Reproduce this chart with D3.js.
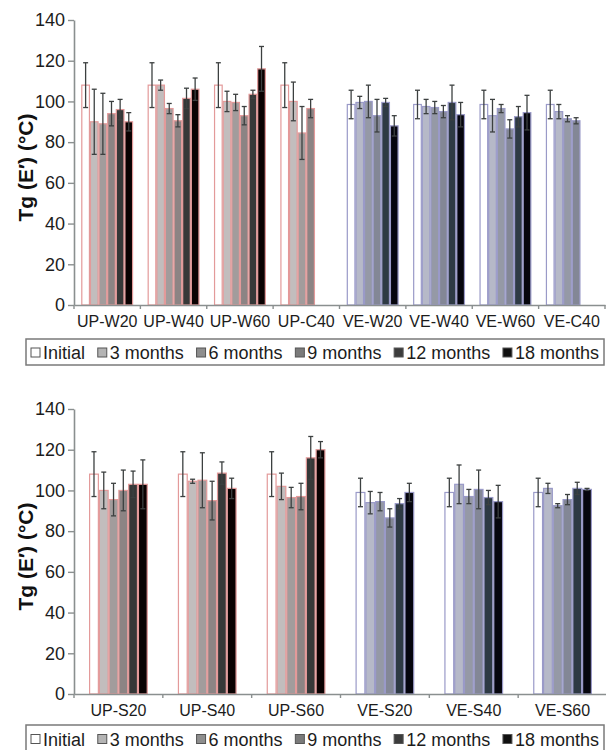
<!DOCTYPE html>
<html>
<head>
<meta charset="utf-8">
<script src="https://cdn.jsdelivr.net/npm/d3@7"></script>
<style>
  body { margin: 0; background: #fff; }
  svg { display: block; }
  text { font-family: "Liberation Sans", Arial, Helvetica, sans-serif; }
</style>
</head>
<body>
<svg id="chart" width="606" height="750"></svg>
<script>
// Ageing periods (series) shared by both panels
const series = ["Initial", "3 months", "6 months", "9 months", "12 months", "18 months"];
const yTicks = [0, 20, 40, 60, 80, 100, 120, 140];

// Panel 1: water / concrete exposure
const topCats = ["UP-W20", "UP-W40", "UP-W60", "UP-C40", "VE-W20", "VE-W40", "VE-W60", "VE-C40"];
const topMeans = [
  [108, 90, 89, 94, 96, 90],
  [108, 108, 96.5, 90.5, 101.5, 106],
  [108, 100, 99.5, 93, 103.5, 116],
  [108, 100, 84.5, 96.5, null, null],
  [98.5, 99.5, 100, 93, 99.5, 88],
  [98.5, 97.5, 97, 95, 99.5, 93.5],
  [98.5, 93, 96.5, 86.5, 92.5, 94.5],
  [98.5, 95, 91.5, 90.5, null, null]
];
const topErrs = [
  [11, 16, 15, 6, 5, 4.5],
  [11, 2.5, 2.5, 3, 5, 5.5],
  [11, 5, 4, 4.5, 2, 11],
  [11, 9.5, 13, 4.5, null, null],
  [7, 3, 8, 8, 2, 5],
  [7, 3.5, 3, 3, 8.5, 6],
  [7, 8, 2, 4.5, 5, 8.5],
  [7, 3.5, 1.5, 1.5, null, null]
];

// Panel 2: salt solution exposure
const bottomCats = ["UP-S20", "UP-S40", "UP-S60", "VE-S20", "VE-S40", "VE-S60"];
const bottomMeans = [
  [108, 100, 95.5, 100, 103, 103],
  [108, 104.5, 105, 95, 108.5, 101],
  [108, 102, 96.5, 97, 116, 120],
  [99, 94, 94.5, 86.5, 93.5, 99],
  [99, 103, 97, 100.5, 96.5, 94.5],
  [99, 101, 92.5, 95.5, 101, 100.5]
];
const bottomErrs = [
  [11, 9, 8, 10, 6.5, 12],
  [11, 1, 13.5, 9.5, 5.5, 5],
  [11, 6.5, 5, 6.5, 10.5, 4],
  [7, 5.5, 4.5, 4.5, 2.5, 4.5],
  [7, 9.5, 3.5, 9.5, 3.5, 8],
  [7, 2.5, 1, 2.5, 3, 0.5]
];

// Palettes: polyester bars carry a reddish edge, vinylester bars a bluish one
const upFill = ["#ffffff", "#c2bdbd", "#a29c9c", "#8c8484", "#363838", "#0a0202"];
const veFill = ["#ffffff", "#b6b9c8", "#9599a6", "#838796", "#2e3a44", "#06060e"];
const upEdge = "#e39a9a";
const veEdge = "#9a9ac8";
const legendFill = ["#ffffff", "#b4b4b4", "#8e8e8e", "#7a7a7a", "#3c3c3c", "#101010"];

const svg = d3.select("#chart");

function drawPanel(cfg) {
  const g = svg.append("g");
  const y = d3.scaleLinear().domain([0, 140]).range([cfg.yBottom, cfg.yTop]);
  const x0 = d3.scaleBand().domain(cfg.cats).range([cfg.xLeft, cfg.xRight])
    .paddingInner(cfg.padIn).paddingOuter(cfg.padIn / 2);
  const x1 = d3.scaleBand().domain(series).range([0, x0.bandwidth()]);

  // bars
  const groups = g.selectAll("g.grp").data(cfg.cats).join("g")
    .attr("class", "grp")
    .attr("transform", d => `translate(${x0(d)},0)`);

  groups.each(function (cat, ci) {
    const isUP = cat.startsWith("UP");
    const fills = isUP ? upFill : veFill;
    const edge = isUP ? upEdge : veEdge;
    const rows = series.map((s, si) => ({ s, si, v: cfg.means[ci][si], e: cfg.errs[ci][si] }))
      .filter(d => d.v != null);
    const grp = d3.select(this);
    grp.selectAll("rect").data(rows).join("rect")
      .attr("x", d => x1(d.s) + 0.5)
      .attr("width", x1.bandwidth() - 1)
      .attr("y", d => y(d.v))
      .attr("height", d => y(0) - y(d.v))
      .attr("fill", d => fills[d.si])
      .attr("stroke", edge)
      .attr("stroke-width", 1.2);

    // error bars
    const eb = grp.selectAll("g.err").data(rows).join("g").attr("class", "err")
      .attr("transform", d => `translate(${x1(d.s) + x1.bandwidth() / 2},0)`);
    eb.append("line")
      .attr("y1", d => y(d.v + d.e)).attr("y2", d => y(d.v - d.e))
      .attr("stroke", "#3c4040").attr("stroke-width", 1.3);
    eb.append("line")
      .attr("x1", -2.5).attr("x2", 2.5)
      .attr("y1", d => y(d.v + d.e)).attr("y2", d => y(d.v + d.e))
      .attr("stroke", "#3c4040").attr("stroke-width", 1.3);
    eb.append("line")
      .attr("x1", -2.5).attr("x2", 2.5)
      .attr("y1", d => y(d.v - d.e)).attr("y2", d => y(d.v - d.e))
      .attr("stroke", "#3c4040").attr("stroke-width", 1.3);
  });

  // y axis
  const ya = g.append("g")
    .attr("transform", `translate(${cfg.xLeft},0)`)
    .call(d3.axisLeft(y).tickValues(yTicks).tickSize(6).tickSizeOuter(0).tickPadding(3));
  ya.select(".domain").attr("stroke", "#8a8f8f").attr("stroke-width", 1.6);
  ya.selectAll(".tick line").attr("stroke", "#8a8f8f").attr("stroke-width", 1.4);
  ya.selectAll(".tick text").attr("font-size", 18).attr("fill", "#1c1c1c")
    .attr("font-family", '"Liberation Sans", Arial, sans-serif');

  // x axis: category labels centred in each band, tick marks at band boundaries
  const xa = g.append("g")
    .attr("transform", `translate(0,${cfg.yBottom})`)
    .call(d3.axisBottom(x0).tickSize(0).tickSizeOuter(0).tickPadding(11));
  xa.select(".domain").attr("stroke", "#8a8f8f").attr("stroke-width", 1.6);
  xa.selectAll(".tick text").attr("font-size", 16).attr("fill", "#1c1c1c")
    .attr("font-family", '"Liberation Sans", Arial, sans-serif');
  const step = x0.step();
  const bounds = d3.range(cfg.cats.length + 1).map(i => x0(cfg.cats[0]) - x0.paddingOuter() * step + i * step);
  g.append("g").selectAll("line").data(bounds).join("line")
    .attr("x1", d => d).attr("x2", d => d)
    .attr("y1", cfg.yBottom).attr("y2", cfg.yBottom + 4)
    .attr("stroke", "#8a8f8f").attr("stroke-width", 1.4);

  // y axis title
  g.append("text")
    .attr("transform", `translate(${cfg.titleX},${(cfg.yTop + cfg.yBottom) / 2 + 5}) rotate(-90)`)
    .attr("text-anchor", "middle")
    .attr("dominant-baseline", "central")
    .attr("font-size", 21)
    .attr("font-weight", "bold")
    .attr("fill", "#111")
    .text("Tg (E\u2032) (\u00B0C)");

  // legend box
  const lg = g.append("g");
  lg.append("rect")
    .attr("x", cfg.legend.x0).attr("y", cfg.legend.y)
    .attr("width", cfg.legend.x1 - cfg.legend.x0).attr("height", cfg.legend.h)
    .attr("fill", "#fff").attr("stroke", "#7a7a7a").attr("stroke-width", 1.5);
  const cy = cfg.legend.y + cfg.legend.h / 2 + 1;
  const items = lg.selectAll("g.item").data(series).join("g").attr("class", "item");
  items.append("rect")
    .attr("width", 9).attr("height", 9).attr("y", cy - 5)
    .attr("fill", (d, i) => legendFill[i]).attr("stroke", "#555").attr("stroke-width", 1);
  items.append("text")
    .attr("x", 12).attr("y", cy).attr("dominant-baseline", "central")
    .attr("font-size", 18).attr("fill", "#1c1c1c").text(d => d);
  // spread items evenly across the box
  const widths = [];
  items.each(function () { widths.push(12 + d3.select(this).select("text").node().getComputedTextLength()); });
  const start = cfg.legend.x0 + 5, end = cfg.legend.x1 - 5;
  const gap = (end - start - d3.sum(widths)) / (series.length - 1);
  let cx = start;
  items.each(function (d, i) {
    d3.select(this).attr("transform", `translate(${cx},0)`);
    cx += widths[i] + gap;
  });
}

drawPanel({
  cats: topCats, means: topMeans, errs: topErrs,
  xLeft: 74, xRight: 605, yTop: 20, yBottom: 305, padIn: 0.22, titleX: 25,
  legend: { x0: 26, x1: 604, y: 339, h: 26 }
});

drawPanel({
  cats: bottomCats, means: bottomMeans, errs: bottomErrs,
  xLeft: 74, xRight: 607, yTop: 409, yBottom: 694, padIn: 0.34, titleX: 25,
  legend: { x0: 26, x1: 604, y: 725, h: 27 }
});
</script>
</body>
</html>
